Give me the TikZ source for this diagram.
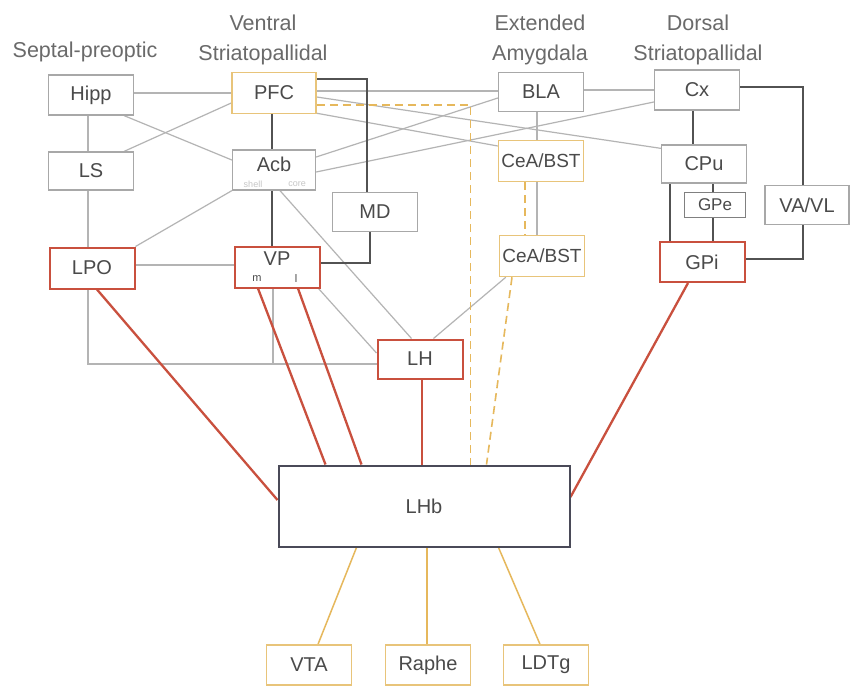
\documentclass[tikz,border=0pt]{standalone}
\usepackage{fontspec}
\setmainfont{Liberation Sans}
\usetikzlibrary{calc}
\pgfdeclarelayer{paper}
\pgfdeclarelayer{wires}
\pgfsetlayers{paper,wires,main}

\definecolor{txt}{HTML}{4A4A4A}
\definecolor{hdr}{HTML}{6A6A6A}
\definecolor{lgray}{HTML}{B4B4B4}
\definecolor{dgray}{HTML}{525252}
\definecolor{rline}{HTML}{C9503E}
\definecolor{oline}{HTML}{E6B85C}
\definecolor{obox}{HTML}{E8C47A}
\definecolor{gbox}{HTML}{A8A8A8}
\definecolor{hbbox}{HTML}{4A4A58}

\tikzset{
  region/.style={rectangle, fill=white, inner sep=0pt, text=txt,
    font=\fontsize{20}{24}\selectfont, minimum width=85pt, minimum height=40pt},
  graybox/.style={region, draw=gbox, line width=1.3pt},
  orangebox/.style={region, draw=obox, line width=1.5pt},
  redbox/.style={region, draw=rline, line width=2pt},
  hubbox/.style={region, draw=hbbox, line width=2pt},
  header/.style={text=hdr, font=\fontsize{21.5}{25}\selectfont, inner sep=0pt},
  sublabel/.style={text=txt, font=\fontsize{20}{24}\selectfont, inner sep=0pt},
  tiny/.style={text=txt, font=\fontsize{11}{12}\selectfont, inner sep=0pt},
  faint/.style={text=gray!45, font=\fontsize{9}{10}\selectfont, inner sep=0pt},
  lg/.style={draw=lgray, line width=1.2pt},
  dg/.style={draw=dgray, line width=2pt},
  rd/.style={draw=rline, line width=2.3pt},
  og/.style={draw=oline, line width=1.5pt},
  od/.style={draw=oline, line width=1.6pt, dash pattern=on 8pt off 5pt},
}

\begin{document}
\begin{tikzpicture}[x=1pt,y=-1pt]
\useasboundingbox (0,0) rectangle (850,689);
\begin{pgfonlayer}{paper}
  \fill[white] (0,0) rectangle (850,689);
\end{pgfonlayer}

% column headings
\node[header] (hsep) at (85,52) {Septal-preoptic};
\node[header] (hven1) at (263,23) {Ventral};
\node[header] (hven2) at (263,55) {Striatopallidal};
\node[header] (hext1) at (540,23) {Extended};
\node[header] (hext2) at (540,55) {Amygdala};
\node[header] (hdor1) at (698,23) {Dorsal};
\node[header] (hdor2) at (698,55) {Striatopallidal};

% regions
\node[graybox] (hipp) at (91,95) {Hipp};
\node[orangebox, minimum width=84pt, minimum height=41pt] (pfc) at (274,93) {PFC};
\node[graybox, minimum height=38pt] (ls) at (91,171) {LS};
\node[graybox, minimum width=83pt] (acb) at (274,170) {};
\node[sublabel] (acbtxt) at (274,164) {Acb};
\node[faint] (acbshell) at (253,184) {shell};
\node[faint] (acbcore) at (297,184) {core};
\node[graybox, minimum height=39pt] (md) at (375,212) {MD};
\node[graybox, minimum height=39pt] (bla) at (541,92) {BLA};
\node[graybox] (cx) at (697,90) {Cx};
\node[orangebox, minimum height=41pt, font=\fontsize{19}{22}\selectfont] (ceaA) at (541,161) {CeA/BST};
\node[graybox, minimum height=38pt] (cpu) at (704,164) {CPu};
\node[graybox, draw=gray, minimum width=61pt, minimum height=25pt,
      font=\fontsize{17}{20}\selectfont] (gpe) at (715,205) {GPe};
\node[graybox, minimum width=84pt, minimum height=39pt] (vavl) at (807,205) {VA/VL};
\node[redbox] (gpi) at (702,262) {GPi};
\node[redbox, minimum height=41pt] (lpo) at (92,268) {LPO};
\node[redbox, minimum height=41pt] (vp) at (277,267) {};
\node[sublabel] (vptxt) at (277,259) {VP};
\node[tiny] (vpm) at (257,279) {m};
\node[tiny] (vpl) at (296,279) {l};
\node[orangebox, minimum height=41pt, font=\fontsize{19}{22}\selectfont] (ceaB) at (542,256) {CeA/BST};
\node[redbox, minimum height=39pt] (lh) at (420,359) {LH};
\node[hubbox, minimum width=291pt, minimum height=81pt] (lhb) at (424,506) {LHb};
\node[orangebox] (vta) at (309,665) {VTA};
\node[orangebox] (raphe) at (428,665) {Raphe};
\node[orangebox] (ldtg) at (546,665) {LDTg};

\begin{pgfonlayer}{wires}
  % light gray connections
  \draw[lg] (pfc.west) -- (pfc.west -| hipp.east);
  \draw[lg] ($(hipp.south)+(-3,0)$) -- ($(ls.north)+(-3,0)$);
  \draw[lg] ($(hipp.south east)+(-10,0)$) -- ($(acb.west)+(0,-10)$);
  \draw[lg] ($(ls.north east)+(-10,0)$) -- ($(pfc.west)+(0,10)$);
  \draw[lg] ($(ls.south)+(-3,0)$) -- ($(lpo.north)+(-4,0)$);
  \draw[lg] (lpo.north east) -- (acb.south west);
  \coordinate (lpoR) at ($(lpo.east)+(0,-3)$);
  \draw[lg] (lpoR) -- (lpoR -| vp.west);
  \draw[lg] ($(lpo.south)+(-4,0)$) |- ($(lh.west)+(0,5)$);
  \draw[lg] ($(vp.south)+(-4,0)$) |- ($(lh.west)+(0,5)$);
  \draw[lg] ($(acb.south)+(6,0)$) -- ($(lh.north west)+(35,0)$);
  \draw[lg] ($(vp.south east)+(-2,0)$) -- ($(lh.west)+(0,-6)$);
  \draw[lg] ($(ceaB.south west)+(7,0)$) -- ($(lh.north east)+(-30,0)$);
  \coordinate (pfcR) at ($(pfc.east)+(0,-2)$);
  \draw[lg] (pfcR) -- (pfcR -| bla.west);
  \draw[lg] ($(pfc.east)+(0,4)$) -- ($(cpu.north west)+(0,4)$);
  \draw[lg] ($(pfc.south east)+(0,-1)$) -- ($(ceaA.west)+(0,-15)$);
  \draw[lg] ($(acb.east)+(0,-13)$) -- ($(bla.west)+(0,6)$);
  \draw[lg] ($(acb.east)+(0,2)$) -- ($(cx.west)+(0,12)$);
  \draw[lg] ($(bla.south)+(-4,0)$) -- ($(ceaA.north)+(-4,0)$);
  \draw[lg] ($(ceaA.south)+(-4,0)$) -- ($(ceaB.north)+(-5,0)$);
  \draw[lg] (cx.west) -- (cx.west -| bla.east);

  % dark gray connections
  \coordinate (pfcB) at ($(pfc.south)+(-2,0)$);
  \draw[dg] (pfcB) -- (pfcB |- acb.north);
  \coordinate (acbB) at ($(acb.south)+(-2,0)$);
  \draw[dg] (acbB) -- (acbB |- vp.north);
  \draw[dg] ($(pfc.north east)+(0,7)$) -| ($(md.north)+(-8,0)$);
  \draw[dg] ($(md.south)+(-5,0)$) |- ($(vp.east)+(0,-4)$);
  \coordinate (cxB) at ($(cx.south)+(-4,0)$);
  \draw[dg] (cxB) -- (cxB |- cpu.north);
  \coordinate (cpuB) at ($(cpu.south)+(-34,0)$);
  \draw[dg] (cpuB) -- (cpuB |- gpi.north);
  \coordinate (gpeT) at ($(gpe.north)+(-2,0)$);
  \draw[dg] (gpeT |- cpu.south) -- (gpeT);
  \coordinate (gpeB) at ($(gpe.south)+(-2,0)$);
  \draw[dg] (gpeB) -- (gpeB |- gpi.north);
  \draw[dg] ($(cx.east)+(0,-3)$) -| ($(vavl.north)+(-4,0)$);
  \draw[dg] ($(vavl.south)+(-4,0)$) |- ($(gpi.east)+(0,-3)$);

  % red projections to LHb
  \draw[rd] ($(lpo.south)+(5,0)$) -- ($(lhb.west)+(0,-6)$);
  \draw[rd] ($(vp.south)+(-19,0)$) -- ($(lhb.north west)+(48,0)$);
  \draw[rd] ($(vp.south)+(21,0)$) -- ($(lhb.north west)+(84,0)$);
  \coordinate (lhB) at ($(lh.south)+(2,0)$);
  \draw[rd] (lhB) -- (lhB |- lhb.north);
  \draw[rd] ($(gpi.south)+(-14,0)$) -- ($(lhb.east)+(0,-9)$);

  % LHb outputs
  \draw[og] ($(lhb.south west)+(79,0)$) -- ($(vta.north)+(9,0)$);
  \coordinate (lhbB) at ($(lhb.south)+(3,0)$);
  \draw[og] (lhbB) -- (lhbB |- raphe.north);
  \draw[og] ($(lhb.south west)+(221,0)$) -- ($(ldtg.north)+(-6,0)$);

  % dashed paths
  \coordinate (pfcD) at ($(pfc.east)+(0,12)$);
  \coordinate (lhbD) at ($(lhb.north west)+(193,0)$);
  \draw[od] (pfcD) -| (lhbD);
  \coordinate (ceaD) at ($(ceaA.south)+(-16,0)$);
  \draw[od] (ceaD) -- (ceaD |- ceaB.north);
  \draw[od] ($(ceaB.south)+(-30,0)$) -- ($(lhb.north east)+(-84,0)$);
\end{pgfonlayer}
\end{tikzpicture}
\end{document}
